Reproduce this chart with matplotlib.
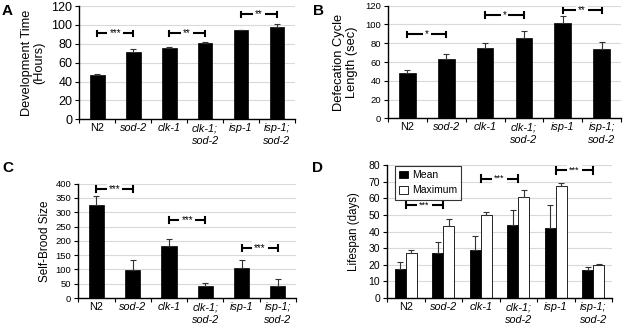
import matplotlib
matplotlib.use("Agg")
import matplotlib.pyplot as plt
import numpy as np
from matplotlib.patches import Patch

plt.rcParams['font.family'] = ['Liberation Sans', 'DejaVu Sans']

strains = ["N2", "sod-2", "clk-1", "clk-1;\nsod-2", "isp-1", "isp-1;\nsod-2"]

dev_time = [47, 71, 75.5, 81, 94.5, 98]
dev_err = [0.5, 3, 1.5, 0.7, 0.6, 3]

defec = [48.6, 63, 74.5, 86, 102, 74]
defec_err = [3, 5, 5.5, 7, 7, 7]

brood = [324, 97, 181, 41, 105, 41]
brood_err = [33, 35, 24, 13, 27, 27]

life_mean = [17.7, 27.3, 28.7, 43.8, 42.2, 17.1]
life_mean_err = [4.3, 6.5, 8.7, 9.5, 14.1, 1.4]
life_max = [27.3, 43.4, 49.8, 60.9, 67.5, 19.9]
life_max_err = [1.4, 4.0, 2.1, 4.0, 2.0, 0.8]

sig_A = [(0, 1, 91, "***"), (2, 3, 91, "**"), (4, 5, 111, "**")]
sig_B = [(0, 1, 89.5, "*"), (2, 3, 110, "*"), (4, 5, 115, "**")]
sig_C = [(0, 1, 382, "***"), (2, 3, 274, "***"), (4, 5, 175, "***")]
sig_D = [(0, 1, 56, "***"), (2, 3, 72, "***"), (4, 5, 77, "***")]

W, H = 624, 327
fig = plt.figure(figsize=(W / 100, H / 100), dpi=100)


def px_axes(l, r, t, b):
    return fig.add_axes([l / W, (H - b) / H, (r - l) / W, (b - t) / H])


def style(ax, ymax, ystep, ylab, ysize, tsize, labx):
    ax.set_xlim(-0.5, 5.5)
    ax.set_ylim(0, ymax)
    ax.set_yticks(np.arange(0, ymax + 0.1, ystep))
    ax.yaxis.grid(True, color='#d9d9d9', lw=0.8)
    ax.set_axisbelow(True)
    for s in ['top', 'right']:
        ax.spines[s].set_visible(False)
    ax.spines['left'].set_linewidth(1.0)
    ax.spines['bottom'].set_linewidth(1.0)
    x = np.arange(len(strains))
    ax.set_xticks(x)
    ax.set_xticklabels(strains, fontsize=7.8, linespacing=1.3)
    for i, lab in enumerate(ax.get_xticklabels()):
        if i > 0:
            lab.set_style('italic')
    ax.tick_params(axis='x', length=0, pad=3)
    ax.set_xticks(np.arange(-0.5, 5.6, 1), minor=True)
    ax.tick_params(axis='x', which='minor', length=3, width=0.8)
    ax.tick_params(axis='y', labelsize=tsize, length=3, width=0.8, pad=2)
    ax.set_ylabel(ylab, fontsize=ysize, linespacing=1.05)
    ax.yaxis.set_label_coords(labx, 0.5)


def bracket(ax, x1, x2, y, txt, ymax, fs=7):
    d = ymax * 0.025
    ax.plot([x1, x2], [y, y], color='black', lw=1.5, zorder=3, solid_capstyle='butt')
    ax.plot([x1, x1], [y - d, y + d], color='black', lw=1.5, zorder=3)
    ax.plot([x2, x2], [y - d, y + d], color='black', lw=1.5, zorder=3)
    ax.text((x1 + x2) / 2, y, txt, ha='center', va='center', fontsize=fs, zorder=4,
            bbox=dict(facecolor='white', edgecolor='none', pad=1.5))


ekw = dict(ecolor='#333333', elinewidth=0.8, capthick=0.8)


def single(ax, vals, errs, width):
    x = np.arange(len(vals))
    ax.bar(x, vals, width=width, color='black', edgecolor='black', lw=0.5, zorder=2,
           yerr=[np.zeros(len(errs)), errs], capsize=2.5, error_kw=ekw)


# Panel A
axA = px_axes(79.3, 295, 6, 119.3)
single(axA, dev_time, dev_err, 0.41)
style(axA, 120, 20, "Development Time\n(Hours)", 9.2, 9, -0.157)
for a, b, y, t in sig_A:
    bracket(axA, a, b, y, t, 120)

# Panel B
axB = px_axes(388, 621, 5.7, 118.3)
single(axB, defec, defec_err, 0.43)
style(axB, 120, 20, "Defecation Cycle\nLength (sec)", 9.3, 6.8, -0.13)
for a, b, y, t in sig_B:
    bracket(axB, a, b, y, t, 120)

# Panel C
axC = px_axes(78.3, 296, 183.7, 298)
single(axC, brood, brood_err, 0.42)
style(axC, 400, 50, "Self-Brood Size", 8.5, 6.8, -0.125)
for a, b, y, t in sig_C:
    bracket(axC, a, b, y, t, 400)

# Panel D
axD = px_axes(387, 612, 165.3, 298)
x = np.arange(len(strains))
bw = 0.295
axD.bar(x - bw / 2, life_mean, width=bw, color='black', edgecolor='black', lw=0.6, zorder=2,
        yerr=[np.zeros(6), life_mean_err], capsize=2.5, error_kw=ekw)
axD.bar(x + bw / 2, life_max, width=bw, color='white', edgecolor='black', lw=0.6, zorder=2,
        yerr=[np.zeros(6), life_max_err], capsize=2.5, error_kw=ekw)
style(axD, 80, 10, "Lifespan (days)", 8.3, 7.5, -0.12)
for a, b, y, t in sig_D:
    bracket(axD, a, b, y, t, 80, fs=6.5)
handles = [Patch(facecolor='black', edgecolor='black', lw=0.6, label='Mean'),
           Patch(facecolor='white', edgecolor='black', lw=0.6, label='Maximum')]
leg = axD.legend(handles=handles, loc='upper left', bbox_to_anchor=(8 / 225, 0.995),
                 borderaxespad=0, fontsize=7.5, frameon=True, fancybox=False,
                 handlelength=0.8, handleheight=0.8, handletextpad=0.4,
                 borderpad=0.4, labelspacing=0.5)
leg.get_frame().set_edgecolor('black')
leg.get_frame().set_linewidth(0.8)

# Panel letters
for lx, ly, L in [(2, 11, "A"), (313, 11, "B"), (2, 168, "C"), (312, 168, "D")]:
    fig.text(lx / W, 1 - ly / H, L, fontsize=11, fontweight='bold', ha='left', va='center')

fig.savefig("out.png", dpi=100)
